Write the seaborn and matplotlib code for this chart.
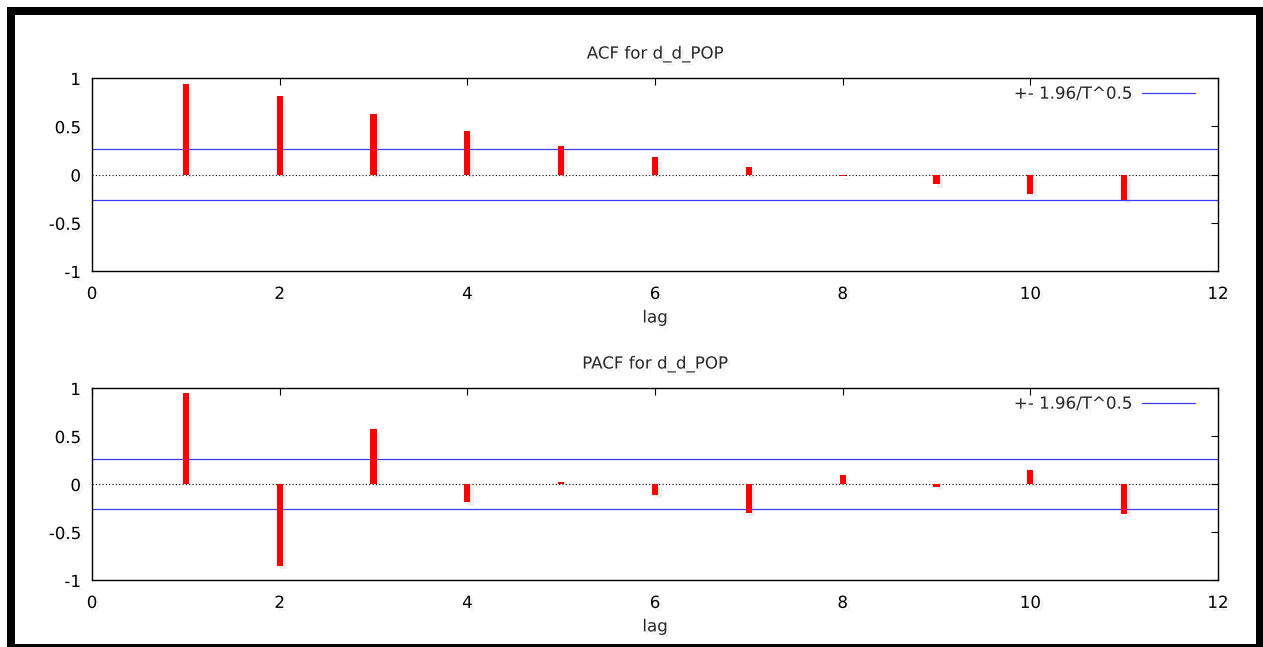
import matplotlib
matplotlib.use("Agg")
import matplotlib.pyplot as plt
import matplotlib.patheffects as pe
from matplotlib.patches import Rectangle
from matplotlib.lines import Line2D
import seaborn as sns
import pandas as pd

lags = [1, 2, 3, 4, 5, 6, 7, 8, 9, 10, 11]
acf_values = [0.94, 0.81, 0.63, 0.45, 0.30, 0.18, 0.08, -0.02, -0.10, -0.20, -0.26]
pacf_values = [0.95, -0.85, 0.57, -0.19, 0.02, -0.11, -0.30, 0.09, -0.03, 0.15, -0.31]
band = 0.26
titles = ["ACF for d_d_POP", "PACF for d_d_POP"]
legend_label = "+- 1.96/T^0.5"
y_ticks = [-1, -0.5, 0, 0.5, 1]
y_tick_labels = ["-1", "-0.5", "0", "0.5", "1"]
x_ticks = [0, 2, 4, 6, 8, 10, 12]

sns.set_style("white")
plt.rcParams["font.family"] = ["DejaVu Sans"]

W, H = 1263, 647
fig = plt.figure(figsize=(W / 100, H / 100), dpi=100)
fig.patch.set_facecolor("white")

FS = 12
shadow_patch = [pe.SimplePatchShadow(offset=(2.5, -2.5), shadow_rgbFace="gray", alpha=0.12), pe.Normal()]
shadow_text = [pe.withSimplePatchShadow(offset=(2, -2), shadow_rgbFace="gray", alpha=0.12)]

def px_axes(x0, y0, x1, y1):
    return [x0 / W, 1 - y1 / H, (x1 - x0) / W, (y1 - y0) / H]

ax_boxes = [px_axes(92, 78, 1218, 271), px_axes(92, 388, 1218, 580)]
series = [acf_values, pacf_values]

for box, vals, title in zip(ax_boxes, series, titles):
    ax = fig.add_axes(box)
    df = pd.DataFrame({"lag": lags, "value": vals})
    ax.axhline(0, color="black", lw=0.8, ls=(0, (1, 2)), zorder=1)
    sns.barplot(data=df, x="lag", y="value", native_scale=True, width=0.065,
                color="red", saturation=1, ax=ax, zorder=3, linewidth=0)
    for p in ax.patches:
        p.set_path_effects(shadow_patch)
    ax.axhline(band, color="#3a3aff", lw=0.9, zorder=2)
    ax.axhline(-band, color="#3a3aff", lw=0.9, zorder=2)
    ax.set_xlim(0, 12)
    ax.set_ylim(-1, 1)
    ax.set_xticks(x_ticks)
    ax.set_yticks(y_ticks)
    ax.set_yticklabels(y_tick_labels)
    ax.tick_params(direction="in", length=5, width=0.8, top=True, right=True,
                   labelsize=FS, colors="black", pad=8)
    ax.tick_params(axis="x", pad=10)
    for s in ax.spines.values():
        s.set_color("black")
        s.set_linewidth(1.0)
        s.set_visible(True)
    ax.set_xlabel("lag", fontsize=FS, labelpad=4)
    ax.set_ylabel("")
    ax.set_title(title, fontsize=FS, pad=14)
    handle = Line2D([0], [0], color="#3a3aff", lw=0.9)
    leg = ax.legend([handle], [legend_label], loc="upper right", frameon=False,
                    markerfirst=False, fontsize=FS, handlelength=3.2,
                    borderaxespad=0.0, handletextpad=0.6,
                    bbox_to_anchor=(0.9855, 1.0))
    for t in ax.get_xticklabels() + ax.get_yticklabels() + [ax.title, ax.xaxis.label] + leg.get_texts():
        t.set_path_effects(shadow_text)

# black outer frame
lw_px = 8
frame = Rectangle((11 / W, 1 - 648 / H), (1260 - 11) / W, (648 - 10.5) / H,
                  transform=fig.transFigure, fill=False, edgecolor="black",
                  linewidth=lw_px * 72 / 100, zorder=10)
fig.patches.append(frame)

fig.savefig("out.png", dpi=100)
